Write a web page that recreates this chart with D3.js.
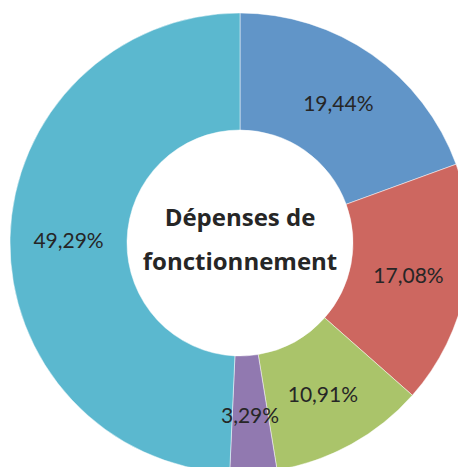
<!DOCTYPE html>
<html>
<head>
<meta charset="utf-8">
<script src="https://cdn.jsdelivr.net/npm/d3@7"></script>
<style>
  html, body { margin: 0; padding: 0; background: #fff; }
  svg { display: block; }
</style>
</head>
<body>
<svg id="chart" width="458" height="467"></svg>
<script>
// Operating expenses breakdown (percent of total)
const categories = ["A", "B", "C", "D", "E"];
const values = [19.44, 17.08, 10.91, 3.29, 49.29];
const labels = ["19,44%", "17,08%", "10,91%", "3,29%", "49,29%"];
const colors = ["#6195c8", "#cd6760", "#aac46a", "#9179b0", "#5bb8cf"];
const titleLines = ["Dépenses de", "fonctionnement"];

const svg = d3.select("#chart");
const cx = 240, cy = 243;
const outerR = 230, innerR = 113;

const pie = d3.pie().sort(null).value(d => d.value);
const arc = d3.arc().innerRadius(innerR).outerRadius(outerR);
const labelArc = d3.arc().innerRadius((innerR + outerR) / 2).outerRadius((innerR + outerR) / 2);

const data = categories.map((c, i) => ({ cat: c, value: values[i], label: labels[i], color: colors[i] }));
const arcs = pie(data);

const g = svg.append("g").attr("transform", `translate(${cx},${cy})`);

g.selectAll("path.slice")
  .data(arcs)
  .enter().append("path")
  .attr("class", "slice")
  .attr("d", arc)
  .attr("fill", d => d.data.color)
  .attr("stroke", "#ffffff")
  .attr("stroke-opacity", 0.6)
  .attr("stroke-width", 0.8);

g.selectAll("text.val")
  .data(arcs)
  .enter().append("text")
  .attr("class", "val")
  .attr("transform", d => `translate(${labelArc.centroid(d)})`)
  .attr("text-anchor", "middle")
  .attr("dominant-baseline", "central")
  .attr("font-family", "Lato, 'Open Sans', sans-serif")
  .attr("font-size", 21)
  .attr("fill", "#262626")
  .text(d => d.data.label);

g.selectAll("text.title")
  .data(titleLines)
  .enter().append("text")
  .attr("class", "title")
  .attr("x", 0)
  .attr("y", (d, i) => -17 + i * 44)
  .attr("text-anchor", "middle")
  .attr("font-family", "'Open Sans', Lato, sans-serif")
  .attr("font-weight", "bold")
  .attr("font-size", 24)
  .attr("fill", "#262626")
  .text(d => d);
</script>
</body>
</html>
